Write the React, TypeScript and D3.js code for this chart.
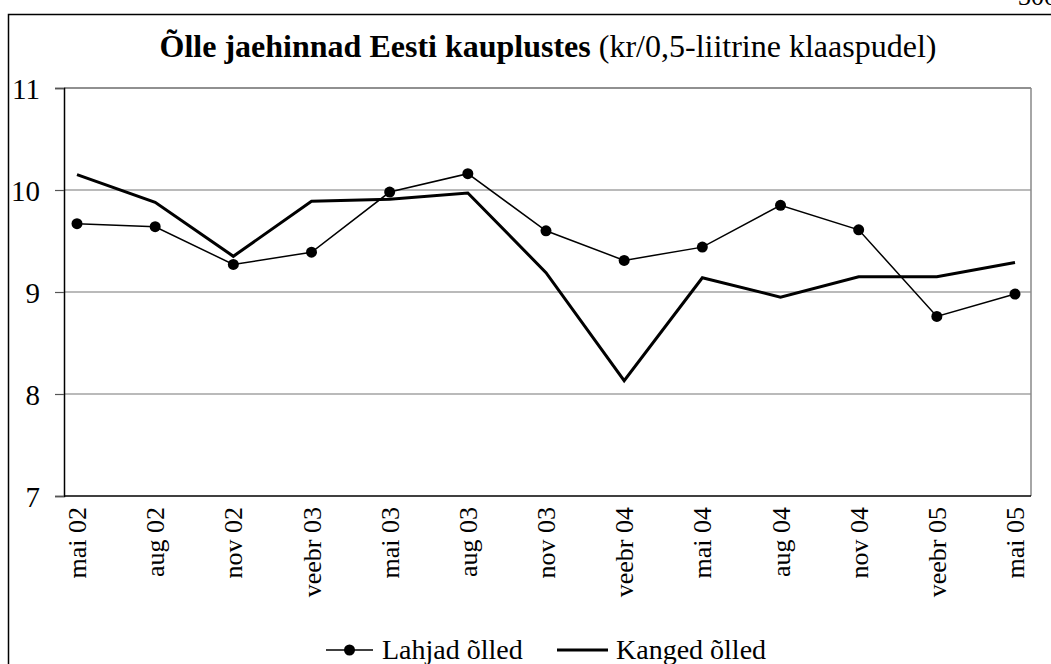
import { useEffect, useRef } from 'react';
import * as d3 from 'd3';

const W = 1051;
const H = 664;

const categories = [
  'mai 02', 'aug 02', 'nov 02', 'veebr 03', 'mai 03', 'aug 03', 'nov 03',
  'veebr 04', 'mai 04', 'aug 04', 'nov 04', 'veebr 05', 'mai 05',
];
const lahjad = [9.67, 9.64, 9.27, 9.39, 9.98, 10.16, 9.6, 9.31, 9.44, 9.85, 9.61, 8.76, 8.98];
const kanged = [10.15, 9.88, 9.35, 9.89, 9.91, 9.97, 9.19, 8.13, 9.14, 8.95, 9.15, 9.15, 9.29];
const yTicks = [7, 8, 9, 10, 11];

const PLOT = { left: 64, right: 1031, top: 88, bottom: 496 };
const FONT = '"Liberation Serif", "Times New Roman", serif';

export default function App() {
  const svgRef = useRef<SVGSVGElement>(null);

  useEffect(() => {
    const svg = d3.select(svgRef.current);
    svg.selectAll('*').remove();

    const x = d3.scalePoint<string>().domain(categories).range([77, 1015]);
    const y = d3.scaleLinear().domain([7, 11]).range([PLOT.bottom, PLOT.top]);

    // outer frame (runs off the page on right/bottom)
    svg.append('rect')
      .attr('x', 8.5).attr('y', 14.5).attr('width', 1100).attr('height', 700)
      .attr('fill', 'none').attr('stroke', '#000').attr('stroke-width', 1.5);

    // cut-off page number at the top right
    svg.append('text')
      .attr('x', 1018).attr('y', 5)
      .attr('font-family', FONT).attr('font-size', 26)
      .text('300');

    // title
    const title = svg.append('text')
      .attr('x', 548).attr('y', 57)
      .attr('text-anchor', 'middle')
      .attr('font-family', FONT).attr('font-size', 32);
    title.append('tspan').attr('font-weight', 'bold').text('Õlle jaehinnad Eesti kauplustes');
    title.append('tspan').text(' (kr/0,5-liitrine klaaspudel)');

    const g = svg.append('g');

    // gridlines
    g.selectAll('.grid')
      .data(yTicks.filter(t => t > 7))
      .join('line')
      .attr('x1', PLOT.left).attr('x2', PLOT.right)
      .attr('y1', d => y(d)).attr('y2', d => y(d))
      .attr('stroke', d => (d === 11 ? '#222' : '#777'))
      .attr('stroke-width', 1.2);

    // right border of plot area
    g.append('line')
      .attr('x1', PLOT.right).attr('x2', PLOT.right)
      .attr('y1', PLOT.top).attr('y2', PLOT.bottom)
      .attr('stroke', '#888').attr('stroke-width', 1.5);

    // y axis
    const yAxis = g.append('g')
      .attr('transform', `translate(${PLOT.left},0)`)
      .call(d3.axisLeft(y).tickValues(yTicks).tickSize(9).tickFormat(d3.format('d')));
    yAxis.select('.domain').attr('stroke', '#000').attr('stroke-width', 1.5);
    yAxis.selectAll('.tick line').attr('stroke', '#555').attr('stroke-width', 1.2);
    yAxis.selectAll('.tick text')
      .attr('font-family', FONT).attr('font-size', 29).attr('fill', '#000')
      .attr('x', -24).attr('dy', '0.35em');

    // x axis line
    g.append('line')
      .attr('x1', PLOT.left).attr('x2', PLOT.right)
      .attr('y1', PLOT.bottom).attr('y2', PLOT.bottom)
      .attr('stroke', '#000').attr('stroke-width', 1.5);

    // x labels, rotated
    g.selectAll('.xlab')
      .data(categories)
      .join('text')
      .attr('transform', d => `translate(${x(d)},${PLOT.bottom + 11}) rotate(-90)`)
      .attr('text-anchor', 'end')
      .attr('dy', '0.35em')
      .attr('font-family', FONT).attr('font-size', 26)
      .text(d => d);

    const line = d3.line<number>()
      .x((_, i) => x(categories[i])!)
      .y(d => y(d));

    g.append('path')
      .datum(kanged)
      .attr('d', line)
      .attr('fill', 'none').attr('stroke', '#000').attr('stroke-width', 3)
      .attr('stroke-linejoin', 'miter');

    g.append('path')
      .datum(lahjad)
      .attr('d', line)
      .attr('fill', 'none').attr('stroke', '#000').attr('stroke-width', 1.5);

    g.selectAll('.dot')
      .data(lahjad)
      .join('circle')
      .attr('cx', (_, i) => x(categories[i])!)
      .attr('cy', d => y(d))
      .attr('r', 5.5)
      .attr('fill', '#000');

    // legend
    const leg = svg.append('g').attr('font-family', FONT).attr('font-size', 28);
    const ly = 650;
    leg.append('line').attr('x1', 326).attr('x2', 373).attr('y1', ly).attr('y2', ly)
      .attr('stroke', '#000').attr('stroke-width', 1.5);
    leg.append('circle').attr('cx', 349.5).attr('cy', ly).attr('r', 5.5).attr('fill', '#000');
    leg.append('text').attr('x', 382).attr('y', 659).text('Lahjad õlled');
    leg.append('line').attr('x1', 557).attr('x2', 608).attr('y1', ly).attr('y2', ly)
      .attr('stroke', '#000').attr('stroke-width', 3);
    leg.append('text').attr('x', 616).attr('y', 659).text('Kanged õlled');
  }, []);

  return (
    <svg
      ref={svgRef}
      width={W}
      height={H}
      style={{ position: 'absolute', left: 0, top: 0, background: '#fff' }}
    />
  );
}
